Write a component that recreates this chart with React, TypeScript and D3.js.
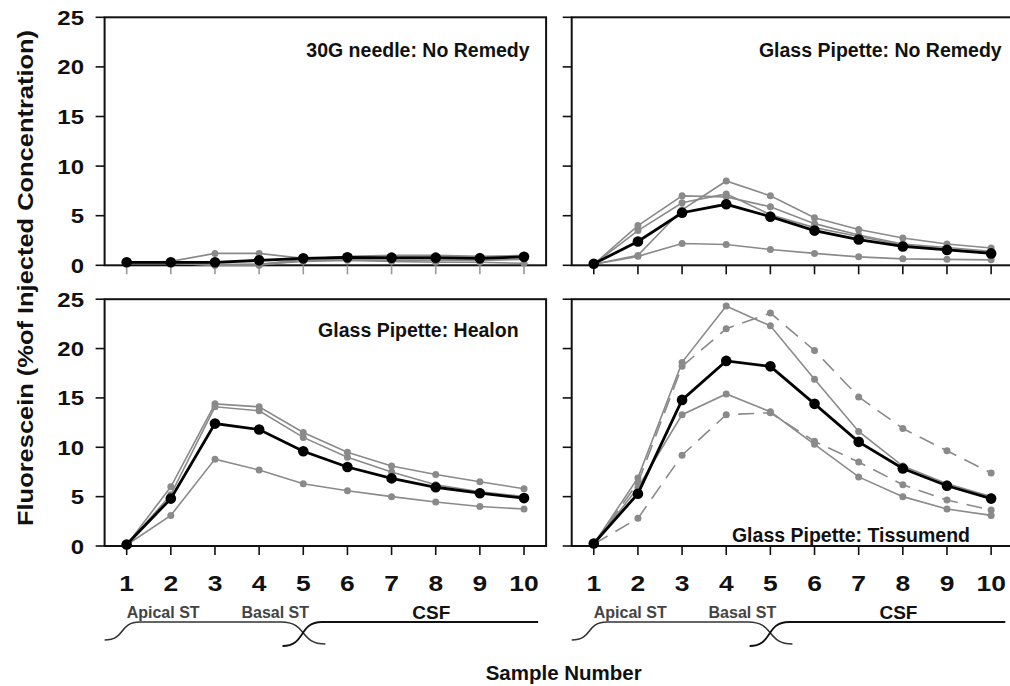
import React from 'react';
import * as d3 from 'd3';

// sample positions and axis ticks
const samples = [1, 2, 3, 4, 5, 6, 7, 8, 9, 10];
const yTicks = [0, 5, 10, 15, 20, 25];

// 30G needle: No Remedy
const needleMean = [0.3, 0.3, 0.3, 0.5, 0.7, 0.8, 0.75, 0.75, 0.7, 0.85];
const needleA = [0.2, 0.4, 1.2, 1.2, 0.7, 0.8, 0.9, 0.9, 0.8, 0.8];
const needleB = [0.3, 0.3, 0.1, 0.1, 0.6, 0.9, 1.0, 1.0, 0.9, 1.0];
const needleC = [0.3, 0.2, 0.0, 0.0, 0.5, 0.6, 0.5, 0.5, 0.5, 0.6];
const needleD = [0.2, 0.2, 0.0, 0.1, 0.4, 0.5, 0.4, 0.3, 0.3, 0.2];

// Glass Pipette: No Remedy
const pipetteMean = [0.15, 2.4, 5.3, 6.15, 4.9, 3.5, 2.6, 1.9, 1.55, 1.2];
const pipetteA = [0.1, 1.0, 5.6, 8.5, 7.0, 4.8, 3.6, 2.75, 2.15, 1.75];
const pipetteB = [0.1, 4.0, 7.0, 6.9, 5.9, 4.2, 3.05, 2.15, 1.8, 1.4];
const pipetteC = [0.1, 3.5, 6.3, 7.2, 5.1, 3.8, 2.9, 2.05, 1.65, 1.3];
const pipetteD = [0.1, 0.9, 2.2, 2.1, 1.6, 1.2, 0.85, 0.65, 0.6, 0.55];

// Glass Pipette: Healon
const healonMean = [0.15, 4.8, 12.4, 11.8, 9.6, 8.0, 6.85, 5.95, 5.35, 4.85];
const healonA = [0.1, 6.0, 14.4, 14.1, 11.5, 9.5, 8.1, 7.25, 6.5, 5.8];
const healonB = [0.1, 5.2, 14.1, 13.7, 11.0, 9.0, 7.5, 6.2, 5.5, 5.0];
const healonC = [0.1, 3.1, 8.8, 7.7, 6.3, 5.6, 5.0, 4.45, 4.0, 3.75];

// Glass Pipette: Tissumend
const tissuMean = [0.25, 5.3, 14.8, 18.75, 18.2, 14.4, 10.55, 7.85, 6.1, 4.8];
const tissuHigh = [0.2, 6.9, 18.6, 24.3, 22.3, 16.9, 11.6, 8.1, 6.3, 5.0];
const tissuLow = [0.2, 5.9, 13.3, 15.4, 13.6, 10.3, 7.0, 5.0, 3.75, 3.1];
const tissuDashHigh = [0.2, 6.4, 18.2, 22.0, 23.6, 19.8, 15.1, 11.9, 9.65, 7.4];
const tissuDashLow = [0.2, 2.8, 9.2, 13.3, 13.5, 10.6, 8.5, 6.2, 4.65, 3.65];

// region brackets under the x axis (in sample units)
const apicalBracket = [0.5, 1.3, 4.5, 5.5];
const csfBracket = [4.53, 5.42, 10.32];
const regionLabels = ['Apical ST', 'Basal ST', 'CSF'];
const regionLabelX = [1.0, 3.6, 7.9];

const FONT = '"Liberation Sans", Arial, Helvetica, sans-serif';
const GRAY = '#8a8a8a';
const DIGIT_STRETCH = 1.2;

const leftX = d3.scaleLinear().domain([0.5, 10.5]).range([104.6, 546.1]);
const rightX = d3.scaleLinear().domain([0.5, 10.5]).range([571.7, 1013.2]);
const topY = d3.scaleLinear().domain([0, 25]).range([265.3, 17.3]);
const bottomY = d3.scaleLinear().domain([0, 25]).range([546, 299.2]);

type Series = { values: number[]; kind: 'mean' | 'solid' | 'dashed' };

const Panel = ({ x, y, series, title, titleRight, titleBaseline, yLabels, xLabels, tickColor }: any) => {
    const line = d3.line<number>()
        .x((_, i) => x(samples[i]))
        .y(v => y(v));
    const [x0, x1] = x.range();
    const [y0, y1] = y.range();
    const ordered = [...series].sort((a: Series, b: Series) => (a.kind === 'mean' ? 1 : 0) - (b.kind === 'mean' ? 1 : 0));
    return (
        <g>
            {/* frame */}
            <rect x={x0} y={y1} width={x1 - x0} height={y0 - y1} fill="none" stroke="#111" strokeWidth={2} />
            {yTicks.map(t => (
                <line key={'yt' + t} x1={x0 - 9} x2={x0} y1={y(t)} y2={y(t)} stroke="#111" strokeWidth={1.6} />
            ))}
            {yLabels && yTicks.map(t => (
                <text key={'yl' + t} transform={`translate(84,${y(t) + 7.5}) scale(${DIGIT_STRETCH},1)`}
                    textAnchor="end" fontFamily={FONT} fontWeight="bold" fontSize={20} fill="#111">{t}</text>
            ))}
            {samples.map(s => (
                <line key={'xt' + s} x1={x(s)} x2={x(s)} y1={y0} y2={y0 + 9} stroke={tickColor} strokeWidth={1.6} />
            ))}
            {xLabels && samples.map(s => (
                <text key={'xl' + s} transform={`translate(${x(s)},${y0 + 44.5}) scale(${DIGIT_STRETCH},1)`}
                    textAnchor="middle" fontFamily={FONT} fontWeight="bold" fontSize={22} fill="#111">{s}</text>
            ))}
            {ordered.map((s: Series, i: number) => (
                <g key={'s' + i}>
                    <path d={line(s.values) || ''} fill="none"
                        stroke={s.kind === 'mean' ? '#000' : GRAY}
                        strokeWidth={s.kind === 'mean' ? 2.8 : 1.6}
                        strokeDasharray={s.kind === 'dashed' ? '16,9' : undefined} />
                    {s.values.map((v, j) => (
                        <circle key={j} cx={x(samples[j])} cy={y(v)}
                            r={s.kind === 'mean' ? 5.3 : 3.5}
                            fill={s.kind === 'mean' ? '#000' : GRAY} />
                    ))}
                </g>
            ))}
            <text x={titleRight} y={titleBaseline} textAnchor="end" fontFamily={FONT}
                fontWeight="bold" fontSize={19.5} fill="#111">{title}</text>
        </g>
    );
};

const Regions = ({ x }: any) => {
    const yTop = 622;
    const [a0, a1, a2, a3] = apicalBracket.map(v => x(v));
    const [c0, c1, c2] = csfBracket.map(v => x(v));
    const path1 = `M${a0},640 C${(a0 + a1) / 2 + 4},640 ${(a0 + a1) / 2 - 4},${yTop} ${a1},${yTop} L${a2},${yTop} C${(a2 + a3) / 2 + 4},${yTop} ${(a2 + a3) / 2 - 4},644 ${a3},644`;
    const path2 = `M${c0},646 C${(c0 + c1) / 2 + 4},646 ${(c0 + c1) / 2 - 4},${yTop} ${c1},${yTop} L${c2},${yTop}`;
    return (
        <g>
            <path d={path1} fill="none" stroke="#333" strokeWidth={1.6} />
            <path d={path2} fill="none" stroke="#111" strokeWidth={1.8} />
            <text x={x(regionLabelX[0])} y={617.5} fontFamily={FONT} fontWeight="bold" fontSize={16} fill="#444">{regionLabels[0]}</text>
            <text x={x(regionLabelX[1])} y={617.5} fontFamily={FONT} fontWeight="bold" fontSize={16} fill="#444">{regionLabels[1]}</text>
            <text x={x(regionLabelX[2])} y={618.5} textAnchor="middle" fontFamily={FONT} fontWeight="bold" fontSize={19} fill="#111">{regionLabels[2]}</text>
        </g>
    );
};

export default function App() {
    return (
        <div style={{ position: 'absolute', left: 0, top: 0, width: 1010, height: 686, background: '#fff' }}>
            <svg width={1010} height={686} style={{ display: 'block' }}>
                <rect width={1010} height={686} fill="#fff" />
                <Panel x={leftX} y={topY} title="30G needle: No Remedy" titleRight={529.6} titleBaseline={57}
                    yLabels xLabels={false} tickColor="#999"
                    series={[
                        { values: needleA, kind: 'solid' }, { values: needleB, kind: 'solid' },
                        { values: needleC, kind: 'solid' }, { values: needleD, kind: 'solid' },
                        { values: needleMean, kind: 'mean' },
                    ]} />
                <Panel x={rightX} y={topY} title="Glass Pipette: No Remedy" titleRight={1001.7} titleBaseline={57}
                    yLabels={false} xLabels={false} tickColor="#111"
                    series={[
                        { values: pipetteA, kind: 'solid' }, { values: pipetteB, kind: 'solid' },
                        { values: pipetteC, kind: 'solid' }, { values: pipetteD, kind: 'solid' },
                        { values: pipetteMean, kind: 'mean' },
                    ]} />
                <Panel x={leftX} y={bottomY} title="Glass Pipette: Healon" titleRight={518.6} titleBaseline={337}
                    yLabels xLabels tickColor="#111"
                    series={[
                        { values: healonA, kind: 'solid' }, { values: healonB, kind: 'solid' },
                        { values: healonC, kind: 'solid' }, { values: healonMean, kind: 'mean' },
                    ]} />
                <Panel x={rightX} y={bottomY} title="Glass Pipette: Tissumend" titleRight={970} titleBaseline={542}
                    yLabels={false} xLabels tickColor="#111"
                    series={[
                        { values: tissuHigh, kind: 'solid' }, { values: tissuLow, kind: 'solid' },
                        { values: tissuDashHigh, kind: 'dashed' }, { values: tissuDashLow, kind: 'dashed' },
                        { values: tissuMean, kind: 'mean' },
                    ]} />
                <Regions x={leftX} />
                <Regions x={rightX} />
                <text transform="translate(33,278) rotate(-90)" textAnchor="middle" fontFamily={FONT}
                    fontWeight="bold" fontSize={22} fill="#111" textLength={496} lengthAdjust="spacingAndGlyphs">
                    Fluorescein (%of Injected Concentration)
                </text>
                <text x={563.7} y={680} textAnchor="middle" fontFamily={FONT} fontWeight="bold" fontSize={20.5} fill="#111">
                    Sample Number
                </text>
            </svg>
        </div>
    );
}
